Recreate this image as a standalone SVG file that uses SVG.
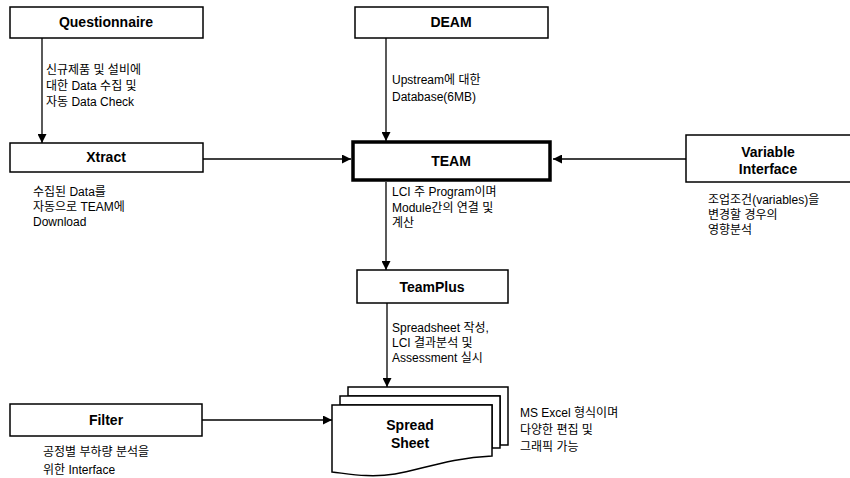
<svg xmlns="http://www.w3.org/2000/svg" width="850" height="478" viewBox="0 0 850 478">
<style>
.box{fill:#fff;stroke:#000;stroke-width:1.5}
.thick{fill:#fff;stroke:#000;stroke-width:3.5}
.lbl{font-family:"Liberation Sans","Noto Sans CJK KR",Arial,sans-serif;font-size:14px;font-weight:bold;text-anchor:middle;fill:#000}
.cap{font-family:"Liberation Sans","Noto Sans CJK KR",Arial,sans-serif;font-size:12px;fill:#000}
.ln{fill:none;stroke:#000;stroke-width:1.3}
</style>
<defs>
<marker id="ah" viewBox="0 0 10 10" refX="10" refY="5" markerWidth="9" markerHeight="9" markerUnits="userSpaceOnUse" orient="auto">
<path d="M0,0 L10,5 L0,10 Z" fill="#000"/>
</marker>
</defs>
<rect width="850" height="478" fill="#fff"/>
<g id="connectors">
<line class="ln" x1="42" y1="38" x2="42" y2="143" marker-end="url(#ah)"/>
<line class="ln" x1="386" y1="38" x2="386" y2="141" marker-end="url(#ah)"/>
<line class="ln" x1="203" y1="159" x2="351" y2="159" marker-end="url(#ah)"/>
<line class="ln" x1="686" y1="159" x2="553" y2="159" marker-end="url(#ah)"/>
<line class="ln" x1="386" y1="182" x2="386" y2="270" marker-end="url(#ah)"/>
<line class="ln" x1="387" y1="303" x2="387" y2="387" marker-end="url(#ah)"/>
<line class="ln" x1="202" y1="420" x2="332" y2="420" marker-end="url(#ah)"/>
</g>
<g id="questionnaire">
<rect class="box" x="10" y="7" width="193" height="31"/>
<text class="lbl" x="106" y="27">Questionnaire</text>
<text class="cap"><tspan x="46" y="74">신규제품 및 설비에</tspan><tspan x="46" y="90">대한 Data 수집 및</tspan><tspan x="46" y="106">자동 Data Check</tspan></text>
</g>
<g id="deam">
<rect class="box" x="355" y="7" width="193" height="31"/>
<text class="lbl" x="451" y="27">DEAM</text>
<text class="cap"><tspan x="392" y="84">Upstream에 대한</tspan><tspan x="392" y="101">Database(6MB)</tspan></text>
</g>
<g id="xtract">
<rect class="box" x="10" y="143" width="193" height="29"/>
<text class="lbl" x="106" y="162">Xtract</text>
<text class="cap"><tspan x="33" y="196">수집된 Data를</tspan><tspan x="33" y="211">자동으로 TEAM에</tspan><tspan x="33" y="226">Download</tspan></text>
</g>
<g id="team">
<rect class="thick" x="353" y="142" width="197" height="38"/>
<text class="lbl" x="451" y="166">TEAM</text>
<text class="cap"><tspan x="392" y="196">LCI 주 Program이며</tspan><tspan x="392" y="212">Module간의 연결 및</tspan><tspan x="392" y="227">계산</tspan></text>
</g>
<g id="variable-interface">
<rect class="box" x="686" y="135" width="170" height="47"/>
<text class="lbl"><tspan x="768" y="157">Variable</tspan><tspan x="768" y="174">Interface</tspan></text>
<text class="cap"><tspan x="708" y="204">조업조건(variables)을</tspan><tspan x="708" y="219">변경할 경우의</tspan><tspan x="708" y="234">영향분석</tspan></text>
</g>
<g id="teamplus">
<rect class="box" x="357" y="270" width="151" height="33"/>
<text class="lbl" x="432" y="292">TeamPlus</text>
<text class="cap"><tspan x="392" y="332">Spreadsheet 작성,</tspan><tspan x="392" y="347">LCI 결과분석 및</tspan><tspan x="392" y="362">Assessment 실시</tspan></text>
</g>
<g id="spreadsheet">
<path class="box" d="M348,387 H508 V445 H500 V396 H348 Z"/>
<path class="box" d="M340,396 H500 V448 H492 V405 H340 Z"/>
<path class="box" d="M332,405 H492 V456 C450,458 420,470 395,474 C370,478 350,474 332,472 Z"/>
<text class="lbl"><tspan x="410" y="430">Spread</tspan><tspan x="410" y="448">Sheet</tspan></text>
<text class="cap"><tspan x="520" y="417">MS Excel 형식이며</tspan><tspan x="520" y="434">다양한 편집 및</tspan><tspan x="520" y="451">그래픽 가능</tspan></text>
</g>
<g id="filter">
<rect class="box" x="10" y="404" width="192" height="32"/>
<text class="lbl" x="106" y="425">Filter</text>
<text class="cap"><tspan x="43" y="456">공정별 부하량 분석을</tspan><tspan x="43" y="474">위한 Interface</tspan></text>
</g>
</svg>
